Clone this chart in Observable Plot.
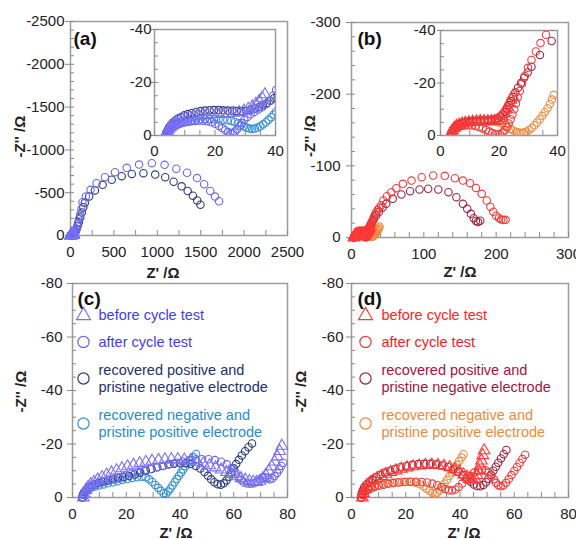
<!DOCTYPE html>
<html><head><meta charset="utf-8">
<script src="https://cdn.jsdelivr.net/npm/d3@7"></script>
<script src="https://cdn.jsdelivr.net/npm/@observablehq/plot@0.6"></script>
<style>
body{margin:0;background:#fff;}
#wrap{position:relative;width:576px;height:539px;overflow:hidden;background:#fff;}
#wrap svg{position:absolute;overflow:visible;}
</style></head><body><div id="wrap"></div>
<script>
// ---------- DATA: [Z' (Ω), -Z'' (Ω)] ----------
// Panel (a) / inset (a)
const aBefore = [[3.8,0],[4,0.8],[4.3,1.6],[4.7,2.4],[5.2,3.1],[5.8,3.8],[6.5,4.4],[7.3,5],[8.2,5.5],[9.2,6],[10.3,6.4],[11.5,6.8],[12.8,7.1],[14.2,7.4],[15.7,7.6],[17.3,7.8],[19,8],[20.8,8.1],[22.6,8.2],[24.4,8.3],[26.2,8.5],[28,8.8],[29.6,9.3],[31,10],[32.3,10.9],[33.5,11.9],[34.6,13],[35.6,14.2],[36.5,15.5]];
const aAfter = [[3.8,0],[4,0.6],[4.3,1.2],[4.7,1.8],[5.2,2.4],[5.8,3],[6.6,3.5],[7.5,4],[8.5,4.4],[9.6,4.8],[10.8,5.1],[12,5.3],[13.3,5.5],[14.6,5.6],[16,5.6],[17.4,5.4],[18.8,5],[20.1,4.4],[21.3,3.6],[22.4,2.8],[23.4,2],[24.3,1.3],[25.1,0.9],[25.9,0.9],[26.6,1.5],[27.3,2.4],[28,3.5],[28.8,4.7],[29.7,5.9],[30.7,7],[31.8,8],[33,8.9],[34.3,9.8],[35.6,10.7],[36.9,11.8],[38.1,13.2],[39.2,15],[40.2,17.2],[43,21],[47,28],[52,38],[59,55],[67,78],[76,108],[86,145],[98,190],[112,245],[125,310],[139,389],[177,456],[231,534],[301,611],[397,681],[513,740],[648,791],[790,829],[937,845],[1084,826],[1219,780],[1343,733],[1458,671],[1540,600],[1610,520],[1665,455],[1712,400]];
const aRecPos = [[3.6,0],[3.9,1],[4.3,2],[4.8,3],[5.4,4],[6.1,4.9],[6.9,5.7],[7.8,6.4],[8.8,7],[9.9,7.6],[11.1,8.1],[12.4,8.5],[13.8,8.9],[15.2,9.2],[16.7,9.4],[18.2,9.5],[19.7,9.6],[21.2,9.6],[22.7,9.5],[24.2,9.4],[25.7,9.3],[27.2,9.2],[28.7,9.2],[30.2,9.3],[31.7,9.6],[33.1,10.1],[34.5,10.7],[35.8,11.4],[37.1,12.2],[38.3,13.1],[39.5,14.1],[40.7,15.2],[43,18],[47,24],[53,35],[60,50],[70,75],[82,110],[96,155],[112,210],[130,270],[148,330],[165,382],[215,456],[281,526],[370,592],[475,651],[590,693],[706,719],[840,728],[976,712],[1091,681],[1188,628],[1280,575],[1350,520],[1410,465],[1460,410],[1497,360]];
const aRecNeg = [[3.6,0],[3.9,0.8],[4.3,1.6],[4.8,2.4],[5.4,3.1],[6.1,3.7],[6.9,4.2],[7.8,4.6],[8.8,5],[9.9,5.3],[11.1,5.6],[12.4,5.8],[13.8,6],[15.2,6.1],[16.7,6.2],[18.2,6.2],[19.7,6.2],[21.2,6.1],[22.7,6],[24.1,5.8],[25.4,5.5],[26.6,5.1],[27.7,4.6],[28.7,4],[29.6,3.4],[30.5,2.9],[31.4,2.6],[32.3,2.5],[33.2,2.6],[34.1,3],[35,3.5],[35.9,4.2],[36.8,5],[37.7,5.9],[38.6,6.9],[39.4,7.9],[40.2,9]];
// Panel (b) / inset (b)
const bBefore = [[3.5,0],[3.8,1],[4.2,2],[4.8,2.9],[5.5,3.6],[6.4,4.1],[7.4,4.5],[8.5,4.8],[9.7,5],[11,5.2],[12.3,5.3],[13.6,5.4],[14.9,5.4],[16.2,5.4],[17.4,5.4],[18.5,5.5],[19.5,5.9],[20.3,6.6],[21,7.5],[21.7,8.6],[22.3,9.8],[22.9,11],[23.5,12.3],[24.1,13.6],[24.7,15]];
const bAfter = [[3.4,0],[3.7,0.9],[4.1,1.7],[4.7,2.4],[5.4,2.9],[6.3,3.3],[7.3,3.6],[8.4,3.8],[9.6,3.9],[10.8,3.8],[12,3.6],[13.2,3.2],[14.4,2.7],[15.6,2.1],[16.7,1.5],[17.7,1],[18.6,0.6],[19.5,0.4],[20.4,0.5],[21.2,1.1],[21.9,2],[22.6,3.2],[23.3,4.6],[24,6.2],[24.6,8],[25.2,10],[25.8,12.2],[26.4,14.5],[27.1,17],[27.9,19.8],[28.8,22.7],[29.9,25.8],[31.1,28.8],[32.6,32],[34.2,35.2],[36.1,38.4],[38.2,41.5],[41,45],[44,51.6],[49,57.6],[55,63.3],[62,68.8],[71,74.9],[83,79.5],[97,84.2],[113,86.5],[129,86],[143,82.7],[154,79.5],[164,75.8],[172,69.2],[180,61],[187,51.6],[192,43],[196,36],[200,30.5],[204,27],[207,25],[210,24.3],[213,24.7]];
const bRecPos = [[3.5,0],[3.8,1.2],[4.3,2.3],[4.9,3.2],[5.7,3.9],[6.6,4.4],[7.6,4.8],[8.7,5.1],[9.9,5.3],[11.1,5.5],[12.4,5.6],[13.7,5.7],[15,5.8],[16.3,5.9],[17.5,6],[18.6,6.2],[19.6,6.6],[20.5,7.2],[21.3,8],[22,9],[22.7,10.2],[23.4,11.6],[24.1,13.1],[24.8,14.7],[25.6,16.4],[26.5,18.2],[27.5,20],[28.6,22],[29.8,24],[31.1,26.2],[34,30.7],[38,36],[43,42],[48,47],[57,54],[69,60],[81,64.6],[94,67],[106,68],[120,67],[134,63.2],[145,56.2],[154,47],[160,40],[165,33],[169,27],[172,23],[175,21.5],[178,23.5]];
const bRecNeg = [[3.5,0],[3.8,1.2],[4.2,2.2],[4.8,3],[5.5,3.7],[6.3,4.2],[7.2,4.6],[8.2,4.9],[9.3,5.1],[10.5,5.3],[11.7,5.4],[12.9,5.5],[14.1,5.6],[15.3,5.6],[16.5,5.6],[17.7,5.5],[18.9,5.3],[20,5],[21.1,4.5],[22.1,3.9],[23.1,3.2],[24,2.5],[24.9,1.9],[25.8,1.4],[26.7,1.1],[27.6,1],[28.5,1.1],[29.4,1.5],[30.3,2.1],[31.2,2.9],[32.1,3.9],[33,5],[33.9,6.2],[34.8,7.5],[35.7,8.9],[36.6,10.4],[37.4,12],[38.1,13.7],[38.7,15.5]];
// Panel (c)
const cBefore = [[4,0],[4.4,1.5],[5,2.8],[5.8,3.9],[6.8,4.9],[8,5.8],[9.4,6.7],[11,7.6],[12.7,8.5],[14.5,9.3],[16.4,10.1],[18.4,10.9],[20.5,11.6],[22.7,12.2],[25,12.8],[27.3,13.3],[29.6,13.7],[32,14],[34.4,14.2],[36.8,14.3],[39.2,14.3],[41.6,14.1],[44,13.8],[46.4,13.3],[48.7,12.7],[51,12],[53.2,11.2],[55.3,10.4],[57.3,9.5],[59.2,8.7],[61,7.9],[62.7,7.2],[64.3,6.6],[65.8,6.1],[67.2,5.8],[68.5,5.8],[69.7,6.2],[70.8,7.1],[71.9,8.4],[73,9.9],[74.1,11.6],[75.2,13.4],[76.2,15.3],[77.1,17.3],[77.9,19.3]];
const cAfter = [[4,0],[4.3,1],[4.8,2],[5.5,2.9],[6.4,3.7],[7.5,4.4],[8.8,5],[10.3,5.6],[12,6.1],[13.8,6.6],[15.7,7.1],[17.7,7.6],[19.8,8.2],[22,8.8],[24.3,9.4],[26.6,10],[29,10.7],[31.4,11.3],[33.8,11.9],[36.2,12.5],[38.6,13],[41,13.5],[43.4,13.9],[45.8,14.2],[48.2,14.3],[50.6,14.3],[53,14],[55.3,13.4],[57.4,12.4],[59.2,11],[60.6,9.4],[61.7,7.8],[62.7,6.5],[63.8,5.6],[65,5.2],[66.3,5.1],[67.6,5.3],[68.8,5.9],[69.8,6.7],[70.7,7.4],[71.6,7.6],[72.5,7.2],[73.4,6.8],[74.3,7.1],[75.2,8],[76.1,9.2],[76.9,10.5],[77.7,11.8],[78.4,13]];
const cRecPos = [[3.6,0],[3.9,1.1],[4.4,2.1],[5.1,3],[6,3.8],[7.1,4.4],[8.4,5],[9.9,5.5],[11.5,6],[13.2,6.4],[15,6.8],[16.9,7.2],[18.9,7.6],[21,8],[23.1,8.6],[25.2,9.3],[27.3,10],[29.4,10.7],[31.5,11.3],[33.6,11.8],[35.7,12.3],[37.8,12.6],[39.9,12.8],[42,12.8],[44,12.5],[45.9,11.8],[47.6,10.8],[49.1,9.5],[50.4,8.1],[51.6,6.8],[52.8,5.7],[54,5],[55.2,4.8],[56.3,5.3],[57.3,6.4],[58.2,7.8],[59.1,9.3],[60,10.9],[60.9,12.5],[61.9,14.1],[63,15.7],[64.2,17.3],[65.5,18.8],[66.8,20.2]];
const cRecNeg = [[3.6,0],[3.9,1],[4.4,1.9],[5.1,2.6],[6,3.2],[7.1,3.7],[8.4,4.1],[9.9,4.5],[11.5,4.9],[13.2,5.3],[15,5.7],[16.8,6.1],[18.6,6.5],[20.4,6.9],[22.2,7.3],[24,7.6],[25.7,7.8],[27.2,7.6],[28.5,6.8],[29.7,5.8],[30.8,4.7],[31.9,3.6],[32.9,2.5],[33.9,1.6],[34.8,1.4],[35.6,2.2],[36.4,3.3],[37.2,4.5],[38,5.7],[38.8,6.9],[39.6,8.1],[40.4,9.3],[41.2,10.5],[42,11.7],[42.9,12.9],[43.8,14],[44.8,15.1],[46,16.3]];
// Panel (d)
const dBefore = [[4,0],[4.4,1.6],[5,3],[5.8,4.2],[6.8,5.3],[8,6.3],[9.4,7.2],[11,8],[12.7,8.8],[14.5,9.5],[16.4,10.1],[18.4,10.7],[20.5,11.2],[22.7,11.6],[25,11.9],[27.3,12.1],[29.6,12.2],[31.9,12.1],[34.1,11.8],[36.2,11.3],[38.1,10.5],[39.8,9.6],[41.3,8.6],[42.6,7.7],[43.7,7],[44.7,6.6],[45.6,7],[46.3,8.3],[46.9,10],[47.4,11.9],[47.9,13.8],[48.4,15.8],[48.9,17.6]];
const dAfter = [[3.8,0],[4.1,0.9],[4.6,1.7],[5.3,2.4],[6.2,3],[7.3,3.5],[8.6,4],[10.1,4.4],[11.8,4.8],[13.6,5.1],[15.5,5.4],[17.5,5.6],[19.6,5.8],[21.7,5.9],[23.8,5.9],[25.9,5.8],[27.9,5.6],[29.8,5.2],[31.6,4.6],[33.2,3.9],[34.6,3.2],[35.9,2.7],[37.1,2.6],[38.3,3],[39.5,3.9],[40.8,5.2],[42.2,6.7],[43.7,8.1],[45.2,9.3],[46.7,10.1],[48.1,10.4],[49.4,10.2],[50.6,9.4],[51.6,8.2],[52.5,6.8],[53.3,5.5],[54.1,4.6],[55,4.2],[56,4.5],[57,5.5],[58,6.9],[59,8.4],[60,9.9],[61,11.4],[62,12.9],[63,14.4],[64,16]];
const dRecPos = [[3.5,0],[3.7,1.3],[4.1,2.6],[4.7,3.8],[5.5,4.9],[6.5,5.9],[7.7,6.8],[9.1,7.7],[10.7,8.5],[12.4,9.3],[14.2,10],[16.1,10.7],[18.1,11.3],[20.2,11.8],[22.4,12.2],[24.6,12.5],[26.8,12.6],[29,12.6],[31.2,12.4],[33.4,12],[35.5,11.4],[37.5,10.6],[39.4,9.6],[41.1,8.4],[42.6,7.1],[43.9,5.9],[45.1,4.9],[46.3,4.3],[47.5,4.2],[48.6,4.7],[49.6,5.7],[50.5,7],[51.4,8.5],[52.3,10],[53.2,11.5],[54.1,13],[55.1,14.6],[56.1,16.2],[57.1,17.8]];
const dRecNeg = [[3.6,0],[3.9,1.1],[4.4,2.1],[5.1,2.9],[6,3.5],[7.1,4],[8.4,4.4],[9.9,4.8],[11.5,5.1],[13.2,5.4],[15,5.6],[16.8,5.8],[18.6,5.9],[20.4,5.9],[22.1,5.8],[23.7,5.5],[25.2,5],[26.5,4.2],[27.7,3.3],[28.8,2.4],[29.8,1.7],[30.7,1.4],[31.6,1.8],[32.5,2.7],[33.4,3.9],[34.3,5.2],[35.2,6.6],[36.1,8],[37,9.4],[37.9,10.8],[38.8,12.2],[39.7,13.6],[40.6,15],[41.3,16.2]];

// ---------- labels / ticks ----------
const legendLabels = ["before cycle test", "after cycle test", "recovered positive and", "pristine negative electrode", "recovered negative and", "pristine positive electrode"];
const panelLabels = ["(a)", "(b)", "(c)", "(d)"];
const xTitle = "Z' /Ω", yTitle = "-Z'' /Ω";
const ticksA = [0, 500, 1000, 1500, 2000, 2500];
const ticksB = [0, 100, 200, 300];
const ticks80 = [0, 20, 40, 60, 80];
const ticks40 = [0, 20, 40];
const blue = {before: "#7a70f4", after: "#6b66f2", recPos: "#2c3b78", recNeg: "#3491d3",
  tBefore: "#3f3cf0", tAfter: "#3f3cf0", tRecPos: "#24306c", tRecNeg: "#2a8ccd"};
const red = {before: "#ff3838", after: "#f03a3a", recPos: "#a2213f", recNeg: "#f08b42",
  tBefore: "#ff2424", tAfter: "#f21c1c", tRecPos: "#a3163a", tRecNeg: "#ef8a3a"};

const range = (a, b, s) => d3.range(a, b + s / 2, s);
const neg = d => d === 0 ? "0" : "-" + d;
const plain = d => String(d);
const FONT = "'Liberation Sans', Arial, sans-serif";
const wrap = document.getElementById("wrap");

function makePlot(c) {
  const fw = c.width - c.ml - c.mr, fh = c.height - c.mt - c.mb;
  const marks = [
    Plot.frame({stroke: "#9c9c9c", strokeWidth: 1.5}),
    Plot.tickX(c.xMinor, {x: d => d, insetTop: fh - 5, stroke: "#8a8a8a"}),
    Plot.tickY(c.yMinor, {y: d => d, insetRight: fw - 4, stroke: "#8a8a8a"}),
    Plot.axisX(c.xMajor, {tickSize: 0, tickPadding: c.xPad, tickFormat: plain, label: null, fontSize: c.fs, fill: "#222"}),
    Plot.axisY(c.yMajor, {tickSize: c.yOut, tickPadding: c.yPad, tickFormat: neg, label: null, fontSize: c.fs, fill: "#222", stroke: "#8a8a8a"})
  ];
  for (const s of c.series) {
    marks.push(Plot.dot(s.data, {x: d => d[0], y: d => d[1], symbol: s.symbol || "circle", r: s.symbol === "triangle" ? 4.3 : 3.7,
      stroke: s.color, strokeWidth: 1.1, fill: "none", clip: !!c.clip}));
  }
  if (c.extra) marks.push(...c.extra);
  const svg = Plot.plot({
    width: c.width, height: c.height,
    marginLeft: c.ml, marginRight: c.mr, marginTop: c.mt, marginBottom: c.mb,
    x: {domain: c.xDomain}, y: {domain: c.yDomain},
    style: {background: "transparent", overflow: "visible", fontFamily: FONT, fontSize: c.fs + "px", color: "#222"},
    marks
  });
  svg.style.left = c.left + "px";
  svg.style.top = c.top + "px";
  wrap.appendChild(svg);
}

function titles(p) {
  return [
    Plot.text([xTitle], {frameAnchor: "bottom", dx: p.xdx, dy: p.xdy, lineAnchor: "bottom", fontWeight: "bold", fontSize: 15, fill: "#222"}),
    Plot.text([yTitle], {frameAnchor: "left", dx: p.ydx, dy: p.ydy, rotate: -90, fontWeight: "bold", fontSize: 15, fill: "#222"}),
    Plot.text([p.label], {frameAnchor: "top-left", dx: p.ldx, dy: p.ldy, textAnchor: "start", lineAnchor: "bottom", fontWeight: "bold", fontSize: 19, fill: "#111"})
  ];
}

function legend(col, mdx, tdx) {
  const m = [];
  const mk = [[col.before, "triangle", 32], [col.after, "circle", 58.5], [col.recPos, "circle", 95], [col.recNeg, "circle", 140]];
  for (const [c, sym, dy] of mk) m.push(Plot.dot([0], {frameAnchor: "top-left", dx: mdx, dy, symbol: sym, r: sym === "triangle" ? 5.2 : 5.6, stroke: c, strokeWidth: 1.2, fill: "none"}));
  const tc = [col.tBefore, col.tAfter, col.tRecPos, col.tRecPos, col.tRecNeg, col.tRecNeg];
  const tdy = [36, 63, 91, 108, 136, 153];
  legendLabels.forEach((t, i) => m.push(Plot.text([t], {frameAnchor: "top-left", dx: tdx, dy: tdy[i], textAnchor: "start", lineAnchor: "bottom", fontSize: 14.5, fill: tc[i]})));
  return m;
}

const seriesOf = (col, b, a, p, n) => [
  {data: n, color: col.recNeg}, {data: p, color: col.recPos}, {data: a, color: col.after}, {data: b, color: col.before, symbol: "triangle"}
];

// (a) main
makePlot({left: 0, top: 0, width: 290, height: 282, ml: 70, mr: 3, mt: 21, mb: 47, fs: 15,
  xDomain: [0, 2500], yDomain: [0, 2500], xMajor: ticksA, xMinor: range(0, 2500, 250), yMajor: ticksA, yMinor: range(0, 2500, 100),
  xPad: 11, yOut: 5, yPad: 1, series: seriesOf(blue, aBefore, aAfter, aRecPos, aRecNeg),
  extra: titles({xdx: -16, xdy: 42, ydx: -50, ydy: 29, label: panelLabels[0], ldx: 3, ldy: 23})});
// (a) inset
makePlot({left: 110, top: 19, width: 170, height: 141, ml: 44, mr: 5, mt: 10, mb: 25, fs: 15, clip: true,
  xDomain: [0, 40], yDomain: [0, 40], xMajor: ticks40, xMinor: range(0, 40, 5), yMajor: ticks40, yMinor: range(0, 40, 5),
  xPad: 10, yOut: 3, yPad: 0, series: seriesOf(blue, aBefore, aAfter, aRecPos, aRecNeg)});
// (b) main
makePlot({left: 290, top: 0, width: 286, height: 282, ml: 61, mr: 8, mt: 22, mb: 45, fs: 15,
  xDomain: [0, 300], yDomain: [0, 300], xMajor: ticksB, xMinor: range(0, 300, 20), yMajor: ticksB, yMinor: range(0, 300, 20),
  xPad: 11, yOut: 5, yPad: 6, series: seriesOf(red, bBefore, bAfter, bRecPos, bRecNeg),
  extra: titles({xdx: 0, xdy: 39, ydx: -41, ydy: 27, label: panelLabels[1], ldx: 6, ldy: 22})});
// (b) inset
makePlot({left: 400, top: 20, width: 165, height: 140, ml: 40, mr: 8, mt: 10, mb: 25, fs: 15, clip: true,
  xDomain: [0, 40], yDomain: [0, 40], xMajor: ticks40, xMinor: range(0, 40, 5), yMajor: ticks40, yMinor: range(0, 40, 5),
  xPad: 10, yOut: 3, yPad: 2, series: seriesOf(red, bBefore, bAfter, bRecPos, bRecNeg)});
// (c)
makePlot({left: 0, top: 270, width: 290, height: 269, ml: 72, mr: 3, mt: 13, mb: 42, fs: 15,
  xDomain: [0, 80], yDomain: [0, 80], xMajor: ticks80, xMinor: range(0, 80, 5), yMajor: ticks80, yMinor: range(0, 80, 5),
  xPad: 11, yOut: 5, yPad: 5, series: seriesOf(blue, cBefore, cAfter, cRecPos, cRecNeg),
  extra: [...titles({xdx: -4, xdy: 40, ydx: -51, ydy: 22, label: panelLabels[2], ldx: 5, ldy: 21}), ...legend(blue, 11, 26)]});
// (d)
makePlot({left: 290, top: 270, width: 286, height: 269, ml: 61, mr: 8, mt: 13, mb: 42, fs: 15,
  xDomain: [0, 80], yDomain: [0, 80], xMajor: ticks80, xMinor: range(0, 80, 5), yMajor: ticks80, yMinor: range(0, 80, 5),
  xPad: 11, yOut: 5, yPad: 3, series: seriesOf(red, dBefore, dAfter, dRecPos, dRecNeg),
  extra: [...titles({xdx: 4, xdy: 40, ydx: -50, ydy: 22, label: panelLabels[3], ldx: 6, ldy: 21}), ...legend(red, 14, 30)]});
</script></body></html>
